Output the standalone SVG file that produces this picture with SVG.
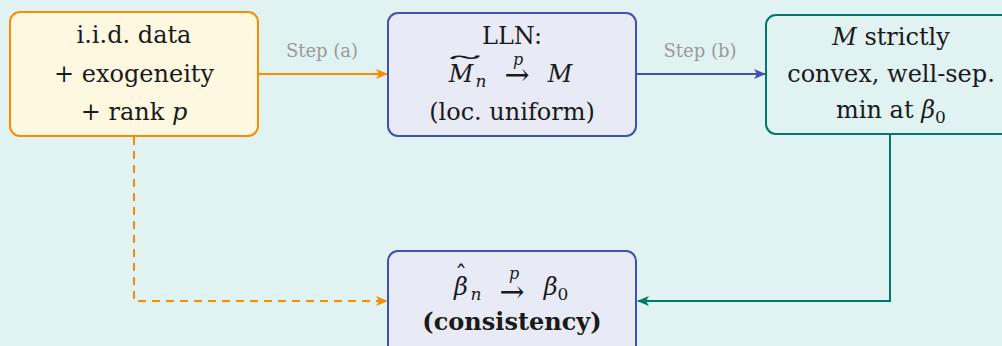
<svg xmlns="http://www.w3.org/2000/svg" width="1002" height="346" viewBox="0 0 1002 346">
<style>
.t{font-family:"DejaVu Serif",serif;font-size:24px;fill:#1a1a1a;text-anchor:middle}
.i{font-style:italic}
.s{font-family:"DejaVu Serif",serif;font-size:18px;fill:#9a9a9a;text-anchor:middle}
.sym{font-family:"DejaVu Serif",serif;font-size:30px;fill:#1a1a1a;text-anchor:middle}
.sub{font-size:17px}
.c{fill:none;stroke-width:2}
</style>
<defs>
<marker id="ao" viewBox="0 0 12 10" refX="11" refY="5" markerWidth="12" markerHeight="10" markerUnits="userSpaceOnUse" orient="auto"><path d="M0,0 L12,5 L0,10 L3,5 z" fill="#FB8C00"/></marker>
<marker id="ab" viewBox="0 0 12 10" refX="11" refY="5" markerWidth="12" markerHeight="10" markerUnits="userSpaceOnUse" orient="auto"><path d="M0,0 L12,5 L0,10 L3,5 z" fill="#3F51B5"/></marker>
<marker id="at" viewBox="0 0 12 10" refX="11" refY="5" markerWidth="12" markerHeight="10" markerUnits="userSpaceOnUse" orient="auto"><path d="M0,0 L12,5 L0,10 L3,5 z" fill="#00796B"/></marker>
</defs>
<rect width="1002" height="346" fill="#E0F2F1"/>
<g id="connectors">
<line class="c" x1="259" y1="74" x2="387" y2="74" stroke="#FB8C00" marker-end="url(#ao)"/>
<text class="s" x="322" y="57">Step (a)</text>
<line class="c" x1="637" y1="74" x2="765" y2="74" stroke="#3F51B5" marker-end="url(#ab)"/>
<text class="s" x="700" y="57">Step (b)</text>
<path class="c" d="M134,137 V301 H387" stroke="#FB8C00" stroke-dasharray="8,6" marker-end="url(#ao)"/>
<path class="c" d="M890,135 V301 H638" stroke="#00796B" marker-end="url(#at)"/>
</g>
<g id="nodeA">
<rect x="10" y="12" width="248" height="124" rx="10" fill="#FFF8E1" stroke="#FB8C00" stroke-width="2"/>
<text class="t" x="134" y="43">i.i.d. data</text>
<text class="t" x="134" y="82">+ exogeneity</text>
<text class="t" x="134" y="120">+ rank <tspan class="i">p</tspan></text>
</g>
<g id="nodeB">
<rect x="388" y="13" width="248" height="123" rx="10" fill="#E8EAF6" stroke="#3F51B5" stroke-width="2"/>
<text class="t" x="512" y="44">LLN:</text>
<text class="t i" x="461" y="82">M</text>
<text class="t i sub" x="481" y="87">n</text>
<text class="t" x="465" y="75" transform="translate(465,0) scale(3.8,1) translate(-465,0)">˜</text>
<text class="sym" x="517" y="85">→</text>
<text class="t i" x="518" y="65" style="font-size:16px">p</text>
<text class="t i" x="560" y="82">M</text>
<text class="t" x="512" y="120">(loc. uniform)</text>
</g>
<g id="nodeC">
<rect x="766" y="15" width="250" height="119" rx="10" fill="#E0F2F1" stroke="#00796B" stroke-width="2"/>
<text class="t" x="891" y="45"><tspan class="i">M</tspan> strictly</text>
<text class="t" x="891" y="82">convex, well-sep.</text>
<text class="t" x="891" y="118">min at <tspan class="i">β</tspan><tspan class="sub" dy="5">0</tspan></text>
</g>
<g id="nodeD">
<rect x="388" y="251" width="248" height="110" rx="10" fill="#E8EAF6" stroke="#3F51B5" stroke-width="2"/>
<text class="t i" x="461" y="295">β</text>
<text class="t" x="461" y="283">ˆ</text>
<text class="t i sub" x="476" y="300">n</text>
<text class="sym" x="512" y="302">→</text>
<text class="t i" x="514" y="279" style="font-size:16px">p</text>
<text class="t" x="556" y="295"><tspan class="i">β</tspan><tspan class="sub" dy="5">0</tspan></text>
<text class="t" x="512" y="330" style="font-weight:bold">(consistency)</text>
</g>
</svg>
